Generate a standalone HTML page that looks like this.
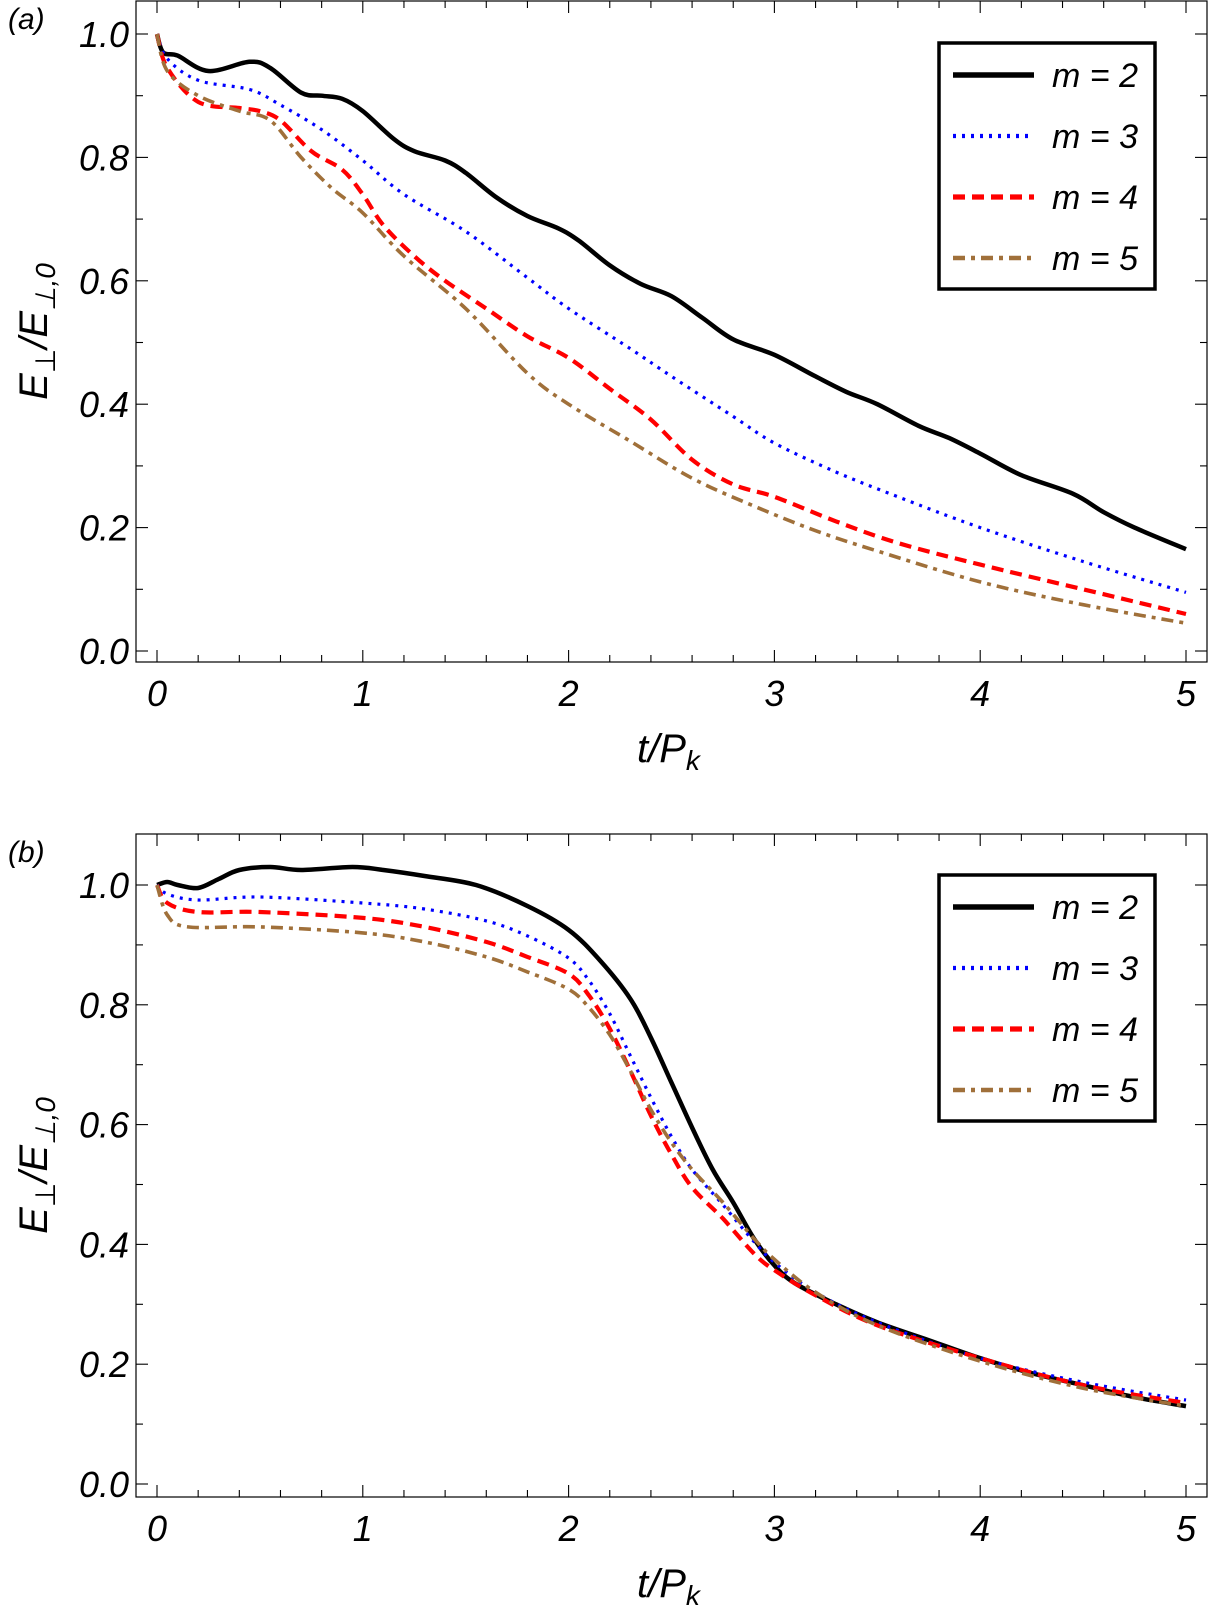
<!DOCTYPE html>
<html><head><meta charset="utf-8"><style>
html,body{margin:0;padding:0;background:#fff;}
svg{display:block;font-family:"Liberation Sans",sans-serif;font-style:italic;}
</style></head><body>
<svg id="c" width="1210" height="1616" viewBox="0 0 1210 1616"></svg>
<script>
const xTicks=[0,1,2,3,4,5];
const yTicks=[0,0.2,0.4,0.6,0.8,1.0];
const yTickLabels=["0.0","0.2","0.4","0.6","0.8","1.0"];
const legendLabels=["m = 2","m = 3","m = 4","m = 5"];
const aT2=[0,0.03,0.1,0.25,0.45,0.55,0.7,0.8,0.9,1.0,1.15,1.25,1.4,1.5,1.65,1.8,1.95,2.05,2.2,2.35,2.5,2.65,2.8,3.0,3.2,3.35,3.5,3.7,3.85,4.0,4.2,4.45,4.6,4.75,5.0];
const aV2=[1.0,0.97,0.965,0.94,0.955,0.945,0.905,0.9,0.895,0.875,0.83,0.81,0.795,0.775,0.735,0.705,0.685,0.665,0.625,0.595,0.575,0.54,0.505,0.48,0.445,0.42,0.40,0.365,0.345,0.32,0.285,0.255,0.225,0.2,0.165];
const aT3=[0,0.05,0.2,0.45,0.6,0.8,1.0,1.2,1.5,1.8,2.0,2.3,2.5,2.8,3.0,3.3,3.6,4.0,4.5,5.0];
const aV3=[1.0,0.96,0.925,0.91,0.885,0.845,0.795,0.74,0.68,0.605,0.555,0.49,0.445,0.38,0.337,0.29,0.25,0.2,0.145,0.095];
const aT4=[0,0.05,0.2,0.4,0.5,0.6,0.75,0.9,1.0,1.1,1.25,1.4,1.6,1.8,2.0,2.2,2.4,2.6,2.8,3.0,3.3,3.6,4.0,4.5,5.0];
const aV4=[1.0,0.945,0.89,0.88,0.875,0.86,0.81,0.78,0.74,0.69,0.64,0.6,0.555,0.51,0.475,0.425,0.375,0.31,0.27,0.25,0.21,0.175,0.14,0.1,0.06];
const aT5=[0,0.05,0.2,0.4,0.55,0.7,0.85,1.0,1.2,1.5,1.8,2.0,2.3,2.6,2.9,3.2,3.5,4.0,4.5,5.0];
const aV5=[1.0,0.94,0.9,0.875,0.86,0.8,0.75,0.71,0.64,0.555,0.45,0.40,0.34,0.28,0.235,0.195,0.162,0.112,0.075,0.045];
const bT2=[0,0.05,0.1,0.2,0.3,0.4,0.55,0.7,0.95,1.1,1.3,1.55,1.8,2.0,2.15,2.3,2.4,2.5,2.6,2.7,2.8,2.9,3.0,3.1,3.3,3.5,3.75,4.0,4.25,4.5,4.75,5.0];
const bV2=[1.0,1.005,1.0,0.995,1.01,1.025,1.03,1.025,1.03,1.025,1.015,1.0,0.965,0.925,0.875,0.81,0.745,0.67,0.595,0.525,0.47,0.41,0.365,0.335,0.3,0.27,0.24,0.21,0.185,0.165,0.145,0.13];
const bT3=[0,0.05,0.2,0.5,1.0,1.3,1.6,1.8,2.0,2.1,2.2,2.3,2.4,2.5,2.6,2.75,2.9,3.0,3.2,3.5,4.0,4.5,5.0];
const bV3=[1.0,0.985,0.975,0.98,0.97,0.96,0.94,0.915,0.878,0.84,0.785,0.715,0.645,0.58,0.525,0.466,0.405,0.37,0.32,0.27,0.21,0.17,0.14];
const bT4=[0,0.05,0.2,0.5,1.0,1.3,1.6,1.8,2.0,2.1,2.2,2.3,2.4,2.5,2.6,2.75,2.9,3.0,3.2,3.5,4.0,4.5,5.0];
const bV4=[1.0,0.97,0.955,0.955,0.945,0.93,0.905,0.88,0.852,0.815,0.76,0.69,0.615,0.55,0.495,0.443,0.385,0.357,0.315,0.265,0.21,0.165,0.135];
const bT5=[0,0.05,0.15,0.5,1.0,1.3,1.6,1.8,2.0,2.1,2.2,2.3,2.4,2.5,2.6,2.75,2.9,3.0,3.2,3.5,4.0,4.5,5.0];
const bV5=[1.0,0.95,0.93,0.93,0.92,0.905,0.88,0.855,0.826,0.795,0.75,0.69,0.625,0.57,0.525,0.47,0.41,0.375,0.32,0.265,0.205,0.16,0.13];

const NS="http://www.w3.org/2000/svg";
const svg=document.getElementById('c');
function mk(tag,attrs,parent,txt){const e=document.createElementNS(NS,tag);for(const k in attrs)e.setAttribute(k,attrs[k]);if(txt!==undefined)e.textContent=txt;(parent||svg).appendChild(e);return e;}
const styles=[
 {stroke:"#000",w:4.5,dash:""},
 {stroke:"#0000ff",w:3.2,dash:"3 6"},
 {stroke:"#ff0000",w:4.2,dash:"12 7"},
 {stroke:"#a0703a",w:3.6,dash:"12 6 4 6"}];
function path(ts,vs,X,Y){
 const p=ts.map((t,i)=>[X(t),Y(vs[i])]);
 let d="M"+p[0][0].toFixed(1)+","+p[0][1].toFixed(1);
 for(let i=0;i<p.length-1;i++){
  const p0=p[Math.max(0,i-1)],p1=p[i],p2=p[i+1],p3=p[Math.min(p.length-1,i+2)];
  const c1=[p1[0]+(p2[0]-p0[0])/6,p1[1]+(p2[1]-p0[1])/6];
  const c2=[p2[0]-(p3[0]-p1[0])/6,p2[1]-(p3[1]-p1[1])/6];
  d+=" C"+c1[0].toFixed(1)+","+c1[1].toFixed(1)+" "+c2[0].toFixed(1)+","+c2[1].toFixed(1)+" "+p2[0].toFixed(1)+","+p2[1].toFixed(1);
 }
 return d;
}
function panel(id,o){
 const g=mk('g',{});
 
 
 const X=t=>o.x0+(o.x5-o.x0)*t/5;
 const Y=v=>o.y0-(o.y0-o.y1)*v;
 const fr=mk('rect',{x:o.L,y:o.T,width:o.R-o.L,height:o.B-o.T,fill:"none",stroke:"#000","stroke-width":1.2},g);
 
 for(let k=0;k<=25;k++){const t=k*0.2,x=X(t),len=(k%5===0)?12:7;
  mk('line',{x1:x,x2:x,y1:o.B,y2:o.B-len,stroke:"#000","stroke-width":1.1},g);
  mk('line',{x1:x,x2:x,y1:o.T,y2:o.T+len,stroke:"#000","stroke-width":1.1},g);}
 for(let k=0;k<=10;k++){const v=k*0.1,y=Y(v),len=(k%2===0)?12:7;
  mk('line',{x1:o.L,x2:o.L+len,y1:y,y2:y,stroke:"#000","stroke-width":1.1},g);
  mk('line',{x1:o.R,x2:o.R-len,y1:y,y2:y,stroke:"#000","stroke-width":1.1},g);}
 xTicks.forEach(t=>{const e=mk('text',{x:X(t),y:o.B+44,"font-size":36,"text-anchor":"middle"},g,String(t));
  });
 yTicks.forEach((v,i)=>{const e=mk('text',{x:129,y:Y(v)+13,"font-size":36,"text-anchor":"end"},g,yTickLabels[i]);
  });
 const xl=mk('text',{x:637,y:o.B+100,"font-size":40},g);
 
 mk('tspan',{},xl,'t/P');mk('tspan',{"font-size":28,dy:8},xl,'k');
 const yl=mk('text',{transform:`translate(47,${(o.T+o.B)/2}) rotate(-90)`,"font-size":40,"text-anchor":"middle"},g);
 
 mk('tspan',{},yl,'E');mk('tspan',{"font-size":28,dy:8,"font-style":"normal"},yl,'⊥');mk('tspan',{dy:-8},yl,'/E');mk('tspan',{"font-size":28,dy:8},yl,'⊥,0');
 const pl=mk('text',{x:8,y:o.T+28,"font-size":30},g,'('+id+')');
 
 const cp=mk('clipPath',{id:'clip'+id},g);mk('rect',{x:o.L,y:o.T,width:o.R-o.L,height:o.B-o.T},cp);
 o.series.forEach((s,i)=>{const st=styles[i];
  const p=mk('path',{d:path(s[0],s[1],X,Y),fill:"none",stroke:st.stroke,"stroke-width":st.w,"stroke-dasharray":st.dash,"stroke-linejoin":"round","clip-path":`url(#clip${id})`},g);
  });
 const lg=mk('g',{},g);
 
 mk('rect',{x:939,y:o.LT,width:216,height:246,fill:"#fff",stroke:"#000","stroke-width":3.5},lg);
 legendLabels.forEach((lab,i)=>{const st=styles[i],y=o.LT+32+i*61;
  const en=mk('g',{},lg);
  
  mk('line',{x1:953,x2:1034,y1:y,y2:y,stroke:st.stroke,"stroke-width":st.w+1,"stroke-dasharray":st.dash},en);
  mk('text',{x:1052,y:y+12,"font-size":34},en,lab);});
}
panel('a',{L:136,R:1207,T:1,B:662,x0:157,x5:1186,y0:651,y1:34,LT:43,
 series:[[aT2,aV2],[aT3,aV3],[aT4,aV4],[aT5,aV5]]});
panel('b',{L:136,R:1207,T:834,B:1497,x0:157,x5:1186,y0:1484,y1:885,LT:875,
 series:[[bT2,bV2],[bT3,bV3],[bT4,bV4],[bT5,bV5]]});
</script>
</body></html>
